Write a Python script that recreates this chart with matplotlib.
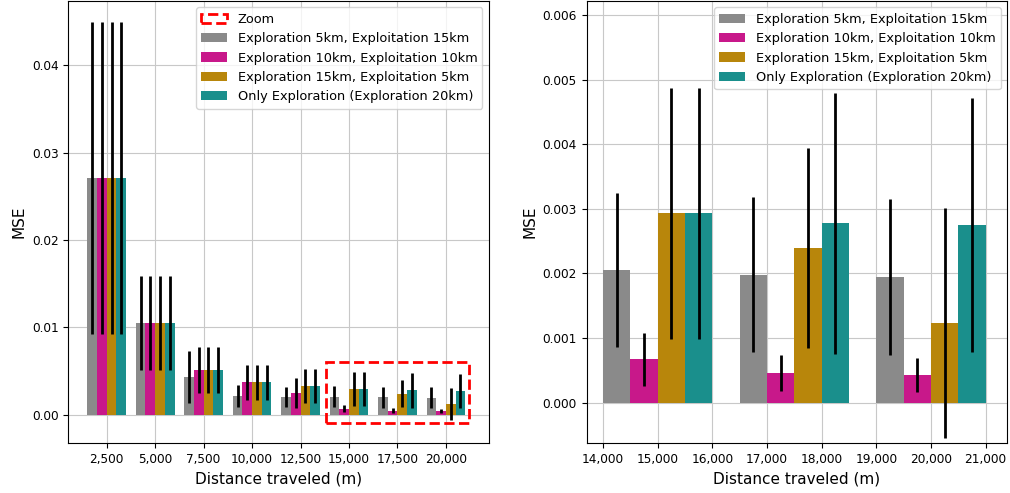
import matplotlib.pyplot as plt
import matplotlib.patches as mpatches
from matplotlib.ticker import StrMethodFormatter
import numpy as np

# distances (m) and MSE mean / std per strategy
distances = [2500, 5000, 7500, 10000, 12500, 15000, 17500, 20000]
labels = ["Exploration 5km, Exploitation 15km",
          "Exploration 10km, Exploitation 10km",
          "Exploration 15km, Exploitation 5km",
          "Only Exploration (Exploration 20km)"]
colors = ["#8a8a8a", "#c8188a", "#b8860b", "#1a8f8c"]

mse_5_15 = [0.0271, 0.0105, 0.00431, 0.00214, 0.00206, 0.00205, 0.00198, 0.00195]
std_5_15 = [0.0179, 0.0054, 0.0030, 0.00126, 0.00116, 0.00119, 0.00120, 0.00121]
mse_10_10 = [0.0271, 0.0105, 0.00515, 0.00374, 0.00248, 0.00067, 0.00046, 0.00043]
std_10_10 = [0.0179, 0.0054, 0.00264, 0.0020, 0.0017, 0.00041, 0.00028, 0.00026]
mse_15_5 = [0.0271, 0.0105, 0.00515, 0.00374, 0.00332, 0.00293, 0.00240, 0.00123]
std_15_5 = [0.0179, 0.0054, 0.00264, 0.0020, 0.00193, 0.00194, 0.00155, 0.00178]
mse_20 = [0.0271, 0.0105, 0.00515, 0.00374, 0.00332, 0.00293, 0.00278, 0.00275]
std_20 = [0.0179, 0.0054, 0.00264, 0.0020, 0.00193, 0.00194, 0.00202, 0.00197]

means = [mse_5_15, mse_10_10, mse_15_5, mse_20]
stds = [std_5_15, std_10_10, std_15_5, std_20]

width = 500
offsets = [-750, -250, 250, 750]
zoom_from = 5  # index of first group shown in the zoom panel

fig = plt.figure(figsize=(10.1, 4.93), dpi=100)
ax1 = fig.add_axes([0.0678, 0.1008, 0.4163, 0.8972])
ax2 = fig.add_axes([0.5809, 0.1008, 0.4161, 0.8972])

x = np.array(distances)
for i in range(4):
    ax1.bar(x + offsets[i], means[i], width, color=colors[i], label=labels[i], zorder=2)
    ax1.errorbar(x + offsets[i], means[i], yerr=stds[i], fmt="none", ecolor="black",
                 elinewidth=2, capsize=0, zorder=3)
    ax2.bar(x[zoom_from:] + offsets[i], means[i][zoom_from:], width, color=colors[i],
            label=labels[i], zorder=2)
    ax2.errorbar(x[zoom_from:] + offsets[i], means[i][zoom_from:], yerr=stds[i][zoom_from:],
                 fmt="none", ecolor="black", elinewidth=2, capsize=0, zorder=3)

# red dashed box marking the zoomed region
rect = mpatches.Rectangle((13800, -0.001), 7400, 0.007, fill=False, edgecolor="red",
                          linestyle="--", linewidth=2, zorder=4, label="Zoom")
ax1.add_patch(rect)

ax1.set_xlim(530, 22220)
ax1.set_ylim(-0.00327, 0.04736)
ax1.set_xticks(distances)
ax2.set_xlim(13700, 21390)
ax2.set_ylim(-0.00063, 0.00622)
ax2.set_xticks(range(14000, 21001, 1000))

for ax in (ax1, ax2):
    ax.grid(True, color="#c8c8c8", zorder=0)
    ax.set_axisbelow(True)
    ax.xaxis.set_major_formatter(StrMethodFormatter("{x:,.0f}"))
    ax.tick_params(labelsize=8.7)
    ax.set_xlabel("Distance traveled (m)", fontsize=11)
    ax.set_ylabel("MSE", fontsize=11)

h, l = ax1.get_legend_handles_labels()
order = [l.index("Zoom")] + [l.index(s) for s in labels]
ax1.legend([h[k] for k in order], [l[k] for k in order], loc="upper right", fontsize=9.3)
ax2.legend(loc="upper right", fontsize=9.3)

plt.savefig("out.png", dpi=100)
